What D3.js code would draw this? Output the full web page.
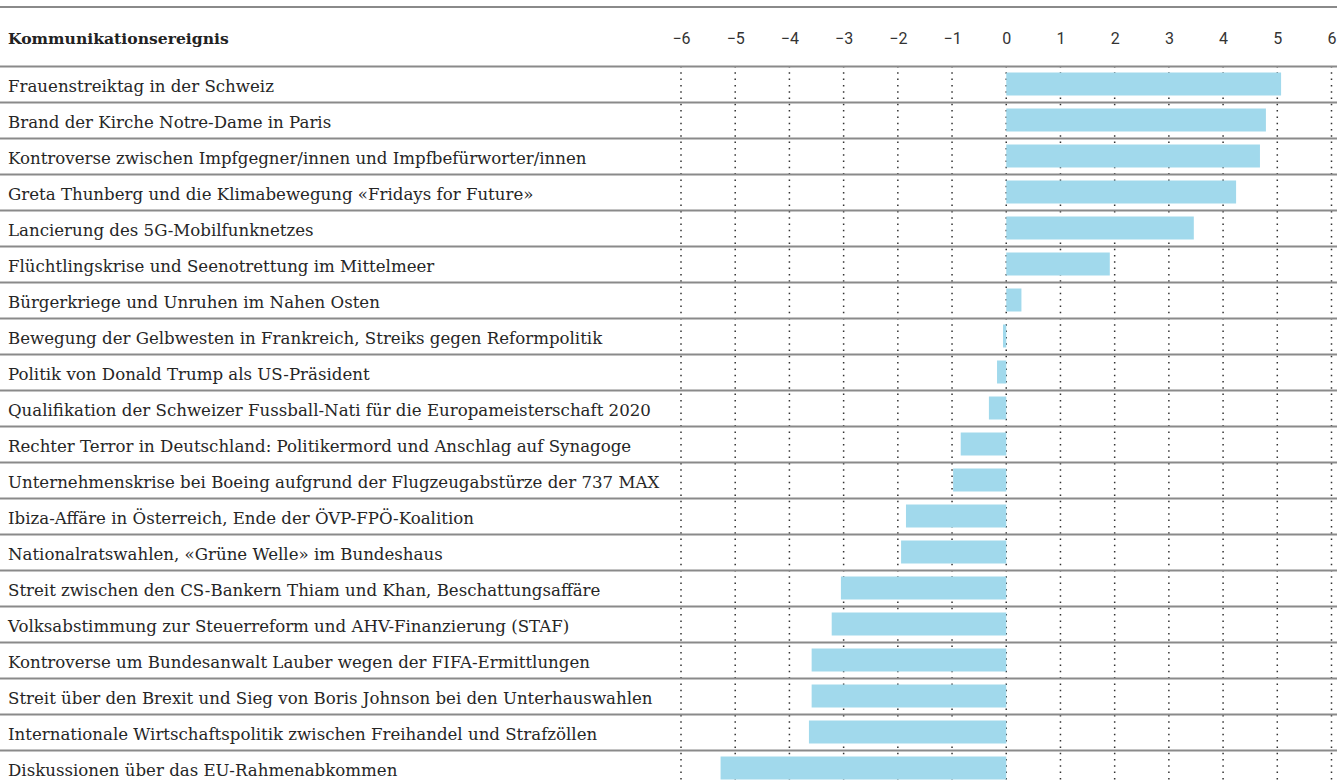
<!DOCTYPE html>
<meta charset="utf-8">
<style>
  body { margin: 0; background: #fff; }
  svg { display: block; }
  .label { font-family: "DejaVu Serif", serif; font-size: 16px; fill: #262626; }
  .head { font-family: "DejaVu Serif", serif; font-size: 15.6px; font-weight: bold; fill: #222; }
  .ticks text { font-family: Roboto, sans-serif; font-size: 16px; fill: #333; }
</style>
<svg id="chart"></svg>
<script src="https://d3js.org/d3.v7.min.js"></script>
<script>
var events = [
  'Frauenstreiktag in der Schweiz',
  'Brand der Kirche Notre-Dame in Paris',
  'Kontroverse zwischen Impfgegner/innen und Impfbefürworter/innen',
  'Greta Thunberg und die Klimabewegung «Fridays for Future»',
  'Lancierung des 5G-Mobilfunknetzes',
  'Flüchtlingskrise und Seenotrettung im Mittelmeer',
  'Bürgerkriege und Unruhen im Nahen Osten',
  'Bewegung der Gelbwesten in Frankreich, Streiks gegen Reformpolitik',
  'Politik von Donald Trump als US-Präsident',
  'Qualifikation der Schweizer Fussball-Nati für die Europameisterschaft 2020',
  'Rechter Terror in Deutschland: Politikermord und Anschlag auf Synagoge',
  'Unternehmenskrise bei Boeing aufgrund der Flugzeugabstürze der 737 MAX',
  'Ibiza-Affäre in Österreich, Ende der ÖVP-FPÖ-Koalition',
  'Nationalratswahlen, «Grüne Welle» im Bundeshaus',
  'Streit zwischen den CS-Bankern Thiam und Khan, Beschattungsaffäre',
  'Volksabstimmung zur Steuerreform und AHV-Finanzierung (STAF)',
  'Kontroverse um Bundesanwalt Lauber wegen der FIFA-Ermittlungen',
  'Streit über den Brexit und Sieg von Boris Johnson bei den Unterhauswahlen',
  'Internationale Wirtschaftspolitik zwischen Freihandel und Strafzöllen',
  'Diskussionen über das EU-Rahmenabkommen'
]
var values = [5.07, 4.79, 4.68, 4.24, 3.46, 1.91, 0.28, -0.06, -0.17, -0.32,
              -0.84, -0.98, -1.85, -1.94, -3.05, -3.22, -3.59, -3.59, -3.64, -5.27]
var ticks = [-6, -5, -4, -3, -2, -1, 0, 1, 2, 3, 4, 5, 6]
var header = 'Kommunikationsereignis'

var width = 1337, height = 783,
    rowTop = 66, rowH = 36, inset = 6.5,
    labelWidth = 652   // longest label spans 8..660 px

var data = events.map((d, i) => ({name: d, value: values[i]}))

var svg = d3.select('#chart')
  .attr('width', width)
  .attr('height', height)

var x = d3.scaleLinear().domain([-6, 6]).range([681, 1331.5])
var y = d3.scaleBand().domain(events).range([rowTop, rowTop + rowH * events.length]).padding(0)

// dotted grid
svg.append('g').selectAll('line')
  .data(ticks)
  .enter().append('line')
  .attr('x1', d => x(d)).attr('x2', d => x(d))
  .attr('y1', rowTop).attr('y2', height)
  .attr('stroke', '#333')
  .attr('stroke-width', 1.5)
  .attr('stroke-dasharray', '1.5,4.8')

// bars
svg.append('g').selectAll('rect')
  .data(data)
  .enter().append('rect')
  .attr('x', d => x(Math.min(0, d.value)))
  .attr('width', d => Math.abs(x(d.value) - x(0)))
  .attr('y', d => y(d.name) + inset)
  .attr('height', y.bandwidth() - inset * 2)
  .attr('fill', '#a1d9ec')

// row rules
svg.append('g').selectAll('line')
  .data(events)
  .enter().append('line')
  .attr('x1', 0).attr('x2', width)
  .attr('y1', d => y(d) + 0.5).attr('y2', d => y(d) + 0.5)
  .attr('stroke', '#8a8a8a')
  .attr('stroke-width', 2)

svg.append('line')
  .attr('x1', 0).attr('x2', width)
  .attr('y1', 7).attr('y2', 7)
  .attr('stroke', '#8a8a8a')
  .attr('stroke-width', 2)

// labels
var labels = svg.append('g').selectAll('text')
  .data(events)
  .enter().append('text')
  .attr('class', 'label')
  .attr('x', 8)
  .attr('y', d => y(d) + 25.5)
  .text(d => d)

// fit the font size so the longest label has the reference width
var widest = d3.max(labels.nodes(), n => n.getComputedTextLength())
labels.style('font-size', (16 * labelWidth / widest) + 'px')

svg.append('text')
  .attr('class', 'head')
  .attr('x', 8)
  .attr('y', 43.5)
  .text(header)

// axis
var axis = d3.axisTop(x)
  .tickValues(ticks)
  .tickSize(0)
  .tickPadding(0)
  .tickFormat(d => d < 0 ? '\u2212' + Math.abs(d) : d)

svg.append('g')
  .attr('class', 'ticks')
  .attr('transform', 'translate(0,44)')
  .call(axis)
  .call(g => g.select('.domain').remove())
</script>
